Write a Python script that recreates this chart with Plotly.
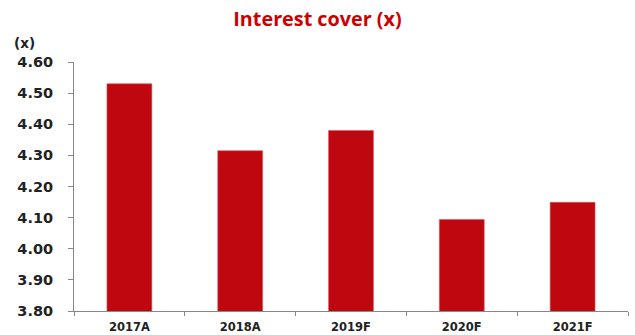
import plotly.graph_objects as go

categories = ["2017A", "2018A", "2019F", "2020F", "2021F"]
values = [4.53, 4.315, 4.38, 4.094, 4.149]
y_ticks = [3.8, 3.9, 4.0, 4.1, 4.2, 4.3, 4.4, 4.5, 4.6]
y_tick_labels = ["%.2f" % v for v in y_ticks]

fig = go.Figure(go.Bar(
    x=categories, y=values, width=0.405,
    marker=dict(color="#BF0710", line=dict(color="#D9555B", width=0.6)),
))

fig.update_layout(
    width=635, height=335,
    margin=dict(l=74, r=7, t=62, b=24),
    paper_bgcolor="white", plot_bgcolor="white",
    showlegend=False,
    title=dict(text="<b>Interest cover (x)</b>", x=0.5, xanchor="center", y=0.942, yanchor="middle",
               font=dict(family="Open Sans", size=19.8, color="#CC0000")),
    font=dict(family="DejaVu Sans", color="#222222"),
)
fig.add_annotation(text="<b>(x)</b>", xref="paper", yref="paper", x=-0.112, y=1.037,
                   xanchor="left", yanchor="bottom", showarrow=False,
                   font=dict(family="DejaVu Sans", size=13.5, color="#222222"))

fig.update_yaxes(range=[3.8, 4.6], tickvals=y_ticks, ticktext=["<b>%s</b>" % t for t in y_tick_labels],
                 showgrid=False, zeroline=False, showline=True, linecolor="#888888", linewidth=1,
                 ticks="outside", ticklen=5, tickcolor="#888888", automargin=False,
                 ticklabelstandoff=12,
                 tickfont=dict(family="DejaVu Sans", size=14.5, color="#222222"))
fig.update_xaxes(showgrid=False, showline=True, linecolor="#888888", linewidth=1,
                 ticks="outside", tickson="boundaries", ticklen=4, tickcolor="#888888",
                 automargin=False, ticklabelstandoff=5,
                 tickvals=categories, ticktext=["<b>%s</b>" % c for c in categories],
                 tickfont=dict(family="DejaVu Sans", size=11.5, color="#222222"))

fig.write_html("out.html")
